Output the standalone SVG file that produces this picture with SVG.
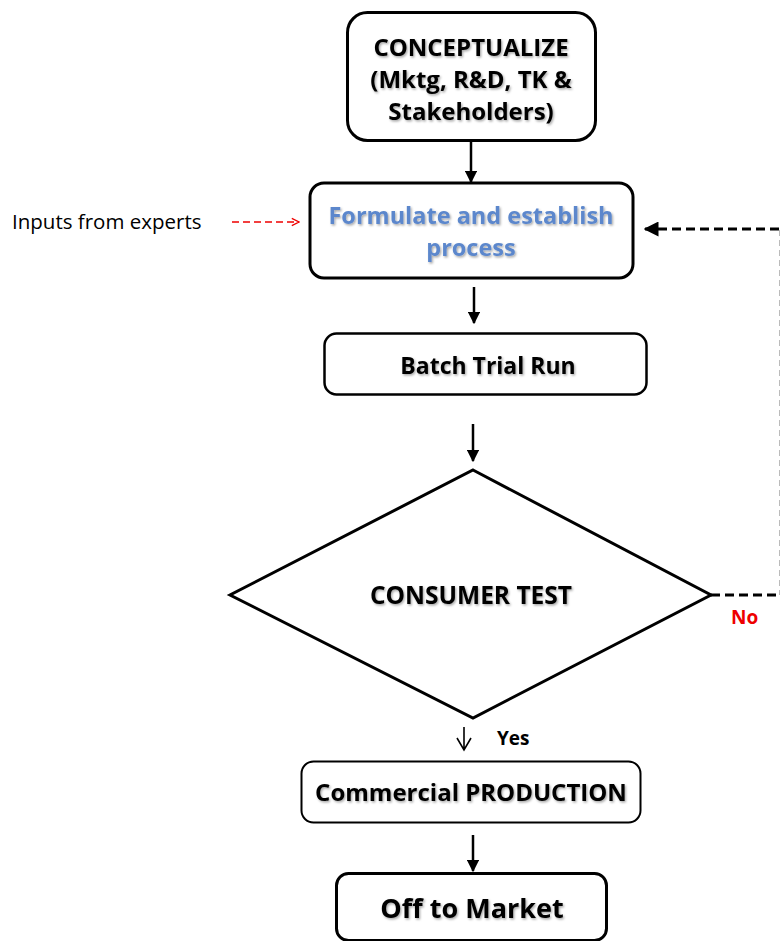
<svg xmlns="http://www.w3.org/2000/svg" width="780" height="941" viewBox="0 0 780 941">
<defs>
<filter id="sh" x="-10%" y="-30%" width="120%" height="160%">
<feDropShadow dx="1.2" dy="1.5" stdDeviation="0.8" flood-color="#000" flood-opacity="0.35"/>
</filter>
<marker id="ah" viewBox="0 0 10 10" refX="9" refY="5" markerWidth="5" markerHeight="5" orient="auto">
<path d="M0,0 L10,5 L0,10 z" fill="#000"/>
</marker>
<marker id="ahred" viewBox="0 0 10 10" refX="9" refY="5" markerWidth="9" markerHeight="11" orient="auto" markerUnits="userSpaceOnUse">
<path d="M1,1 L9,5 L1,9" fill="none" stroke="#e00" stroke-width="1.4"/>
</marker>
</defs>
<style>
.box{fill:#fff;stroke:#000}
.t{font-family:"Open Sans","Liberation Sans",sans-serif;font-weight:bold;text-anchor:middle;fill:#000}
.c{stroke:#000;stroke-width:2.5;fill:none}
</style>
<rect width="780" height="941" fill="#fff"/>
<g id="conceptualize">
<rect class="box" x="347.5" y="12.5" width="248" height="128" rx="20" stroke-width="3"/>
<g class="t" filter="url(#sh)" font-size="24">
<text x="471" y="56">CONCEPTUALIZE</text>
<text x="471" y="88">(Mktg, R&amp;D, TK &amp;</text>
<text x="471" y="120">Stakeholders)</text>
</g>
</g>
<g id="formulate">
<rect class="box" x="310" y="183" width="323" height="95" rx="14" stroke-width="3"/>
<g class="t" filter="url(#sh)" font-size="23.5">
<text x="471" y="224" fill="#5b87cc">Formulate and establish</text>
<text x="471" y="256" fill="#5b87cc">process</text>
</g>
</g>
<g id="inputs">
<text x="12" y="229" font-family="Open Sans, Liberation Sans, sans-serif" font-size="20.5" fill="#000">Inputs from experts</text>
</g>
<g id="batch">
<rect class="box" x="324.5" y="333.5" width="322" height="61" rx="12" stroke-width="2.5"/>
<text class="t" filter="url(#sh)" x="488" y="374" font-size="23">Batch Trial Run</text>
</g>
<g id="consumer">
<polygon class="box" points="473,470 711,595 473,718 230,595" stroke-width="3"/>
<text class="t" filter="url(#sh)" x="471" y="604" font-size="24.5">CONSUMER TEST</text>
</g>
<g id="production">
<rect class="box" x="301.5" y="761.5" width="339" height="61" rx="12" stroke-width="2"/>
<text class="t" filter="url(#sh)" x="471" y="801" font-size="24">Commercial PRODUCTION</text>
</g>
<g id="market">
<rect class="box" x="336.5" y="873.5" width="270" height="67" rx="12" stroke-width="3"/>
<text class="t" filter="url(#sh)" x="472" y="918" font-size="27">Off to Market</text>
</g>
<g id="connectors">
<line class="c" x1="471" y1="141" x2="471" y2="182" marker-end="url(#ah)"/>
<line class="c" x1="474" y1="287" x2="474" y2="323" marker-end="url(#ah)"/>
<line class="c" x1="473" y1="424" x2="473" y2="461" marker-end="url(#ah)"/>
<line class="c" x1="473" y1="835" x2="473" y2="871" marker-end="url(#ah)"/>
<path d="M464,727 L464,750 M457,738 L464,750 L471,738" fill="none" stroke="#000" stroke-width="1.6"/>
<line x1="232" y1="222" x2="299" y2="222" stroke="#e00" stroke-width="1.6" stroke-dasharray="7,4" marker-end="url(#ahred)"/>
<line x1="711" y1="595" x2="779" y2="595" stroke="#000" stroke-width="3" stroke-dasharray="9,5"/>
<line x1="779.5" y1="230" x2="779.5" y2="595" stroke="#bbb" stroke-width="1" stroke-dasharray="6,4"/>
<line x1="779" y1="229" x2="645" y2="229" stroke="#000" stroke-width="3" stroke-dasharray="9,5" marker-end="url(#ah)"/>
<text x="731" y="624" font-family="Open Sans, Liberation Sans, sans-serif" font-weight="bold" font-size="19" fill="#e00">No</text>
<text x="497" y="745" font-family="Open Sans, Liberation Sans, sans-serif" font-weight="bold" font-size="19" fill="#000">Yes</text>
</g>
</svg>
